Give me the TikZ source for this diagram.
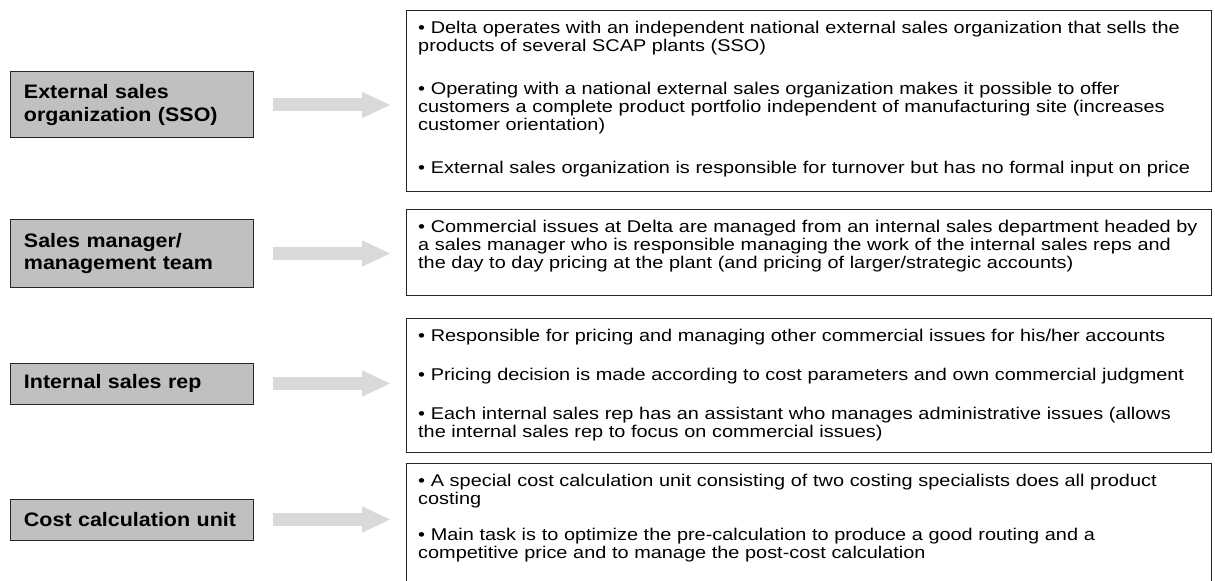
\documentclass[tikz,border=0pt]{standalone}
\usepackage{fontspec}
\setmainfont[FakeStretch=1.17]{Liberation Sans}
\newfontfamily\lblfont[FakeStretch=1.1]{Liberation Sans}
\usepackage{tikz}
\usetikzlibrary{arrows.meta, calc}

\definecolor{lblgray}{HTML}{C0C0C0}
\definecolor{arrgray}{HTML}{D9D9D9}

\begin{document}
\begin{tikzpicture}[x=1bp, y=-1bp,
    lbl/.style={draw=black!85, line width=1bp, fill=lblgray, minimum width=242bp, text width=216bp, inner xsep=13bp, align=left, font=\lblfont\fontsize{19.5bp}{22.7bp}\selectfont\bfseries},
    txt/.style={draw=black!85, line width=1bp, anchor=north west, minimum width=805bp, inner sep=0pt},
    par/.style={anchor=north west, text width=781bp, inner xsep=12bp, inner ysep=11bp, align=left, font=\fontsize{17bp}{18bp}\selectfont},
    fat/.style={draw=arrgray, line width=13bp, -{Triangle[length=29bp, width=24bp]}, shorten <=19bp, shorten >=15bp}]
      \useasboundingbox (0,0) rectangle (1215,581);

      \node [lbl, minimum height=66bp] (lbl1) at (132,105) {External sales\\organization (SSO)};
      \node [lbl, minimum height=67bp] (lbl2) at (132,253.5) {Sales manager/\\management team};
      \node [lbl, minimum height=41bp] (lbl3) at (132,383.5) {Internal sales rep};
      \node [lbl, minimum height=41bp] (lbl4) at (132,519.5) {Cost calculation unit};

      \node [txt, minimum height=181bp] (txt1) at (406,10) {};
      \node [txt, minimum height=86bp] (txt2) at (406,209) {};
      \node [txt, minimum height=134bp] (txt3) at (406,318) {};
      \node [txt, minimum height=125bp] (txt4) at (406,463) {};

      \node [par] (par1) at (txt1.north west) {%
        • Delta operates with an independent national external sales organization that sells the\\
        products of several SCAP plants (SSO)\\[25bp]
        • Operating with a national external sales organization makes it possible to offer\\
        customers a complete product portfolio independent of manufacturing site (increases\\
        customer orientation)\\[25bp]
        • External sales organization is responsible for turnover but has no formal input on price};
      \node [par] (par2) at (txt2.north west) {%
        • Commercial issues at Delta are managed from an internal sales department headed by\\
        a sales manager who is responsible managing the work of the internal sales reps and\\
        the day to day pricing at the plant (and pricing of larger/strategic accounts)};
      \node [par] (par3) at (txt3.north west) {%
        • Responsible for pricing and managing other commercial issues for his/her accounts\\[21bp]
        • Pricing decision is made according to cost parameters and own commercial judgment\\[21bp]
        • Each internal sales rep has an assistant who manages administrative issues (allows\\
        the internal sales rep to focus on commercial issues)};
      \node [par] (par4) at (txt4.north west) {%
        • A special cost calculation unit consisting of two costing specialists does all product\\
        costing\\[18bp]
        • Main task is to optimize the pre-calculation to produce a good routing and a\\
        competitive price and to manage the post-cost calculation};

      \foreach \i in {1,...,4}
        \draw [fat] (lbl\i.east) -- (lbl\i.east -| txt\i.west);
    \end{tikzpicture}
\end{document}
